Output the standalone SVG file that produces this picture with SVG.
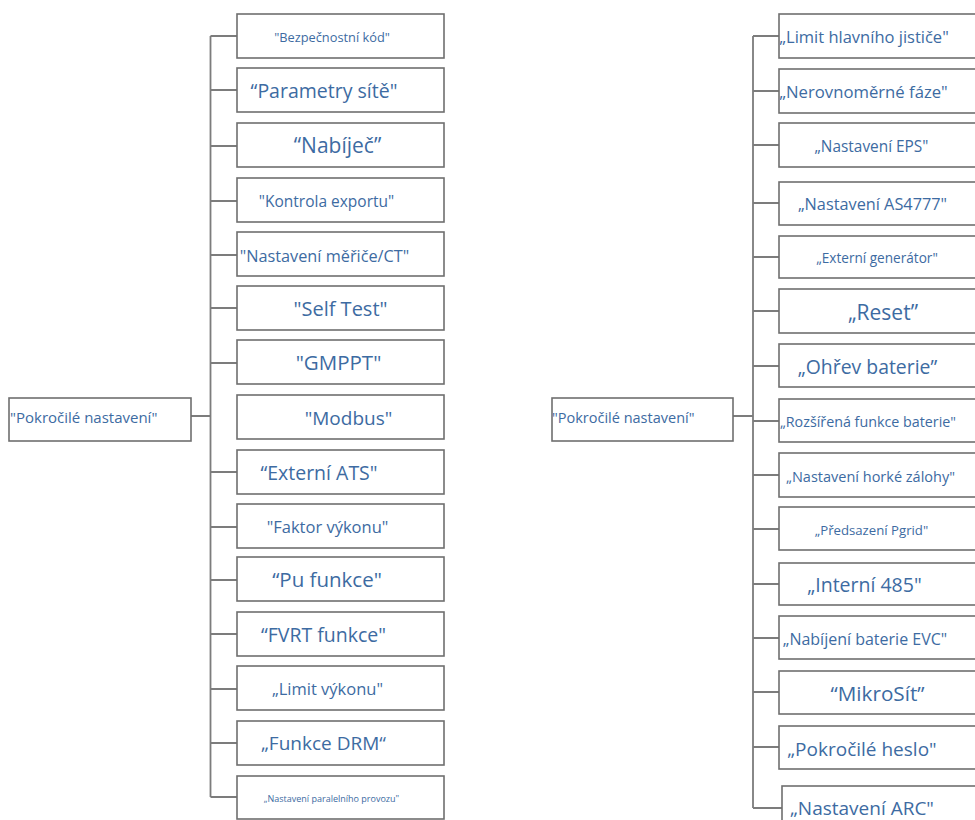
<svg xmlns="http://www.w3.org/2000/svg" width="975" height="820" viewBox="0 0 975 820">
<style>
.box{fill:#ffffff;stroke:#6f6f6f;stroke-width:1.6}
.lbl{font-family:"Open Sans","Noto Sans","DejaVu Sans",sans-serif;fill:#3d6ba2;text-anchor:middle}
.st{text-anchor:start}
.con{stroke:#7c7c7c;stroke-width:1.8;fill:none}
</style>
<rect width="975" height="820" fill="#ffffff"/>
<g id="connectors">
<path class="con" d="M210.5 36V797M191 416H210.5M210.5 36H237M210.5 90H237M210.5 146H237M210.5 201H237M210.5 255H237M210.5 308H237M210.5 363H237M210.5 472H237M210.5 527H237M210.5 580H237M210.5 634H237M210.5 689H237M210.5 743H237M210.5 797H237"/>
<path class="con" d="M753 36V808M733 416H753M753 36H779M753 91H779M753 145H779M753 203H779M753 257H779M753 311H779M753 366H779M753 421H779M753 475H779M753 529H779M753 584H779M753 638H779M753 692H779M753 747H779M753 808H782"/>
</g>
<g id="root-left"><rect class="box" x="9" y="398" width="182" height="43"/><text class="lbl st" x="10" y="423" font-size="15">"Pokročilé nastavení"</text></g>
<g id="l1"><rect class="box" x="237" y="14" width="207" height="44"/><text class="lbl" x="332" y="42" font-size="12.8">"Bezpečnostní kód"</text></g>
<g id="l2"><rect class="box" x="237" y="68" width="207" height="44"/><text class="lbl" x="324" y="98" font-size="19.5">“Parametry sítě"</text></g>
<g id="l3"><rect class="box" x="237" y="123" width="207" height="44"/><text class="lbl" x="337.5" y="153" font-size="21">“Nabíječ”</text></g>
<g id="l4"><rect class="box" x="237" y="178" width="207" height="44"/><text class="lbl" x="326.5" y="206.5" font-size="15.5">"Kontrola exportu"</text></g>
<g id="l5"><rect class="box" x="237" y="232" width="207" height="44"/><text class="lbl" x="324.5" y="261.5" font-size="16.3">"Nastavení měřiče/CT"</text></g>
<g id="l6"><rect class="box" x="237" y="286" width="207" height="44"/><text class="lbl" x="340.5" y="315.5" font-size="20">"Self Test"</text></g>
<g id="l7"><rect class="box" x="237" y="340" width="207" height="44"/><text class="lbl" x="338.5" y="369.5" font-size="20.5">"GMPPT"</text></g>
<g id="l8"><rect class="box" x="237" y="395" width="207" height="44"/><text class="lbl" x="348.5" y="424.5" font-size="19">"Modbus"</text></g>
<g id="l9"><rect class="box" x="237" y="450" width="207" height="44"/><text class="lbl" x="319" y="479.5" font-size="19.5">“Externí ATS"</text></g>
<g id="l10"><rect class="box" x="237" y="504" width="207" height="44"/><text class="lbl" x="327.5" y="533" font-size="16.5">"Faktor výkonu"</text></g>
<g id="l11"><rect class="box" x="237" y="557" width="207" height="44"/><text class="lbl" x="327" y="586.5" font-size="20.5">“Pu funkce"</text></g>
<g id="l12"><rect class="box" x="237" y="612" width="207" height="44"/><text class="lbl" x="323.5" y="641.5" font-size="19.5">“FVRT funkce"</text></g>
<g id="l13"><rect class="box" x="237" y="666" width="207" height="44"/><text class="lbl" x="327.5" y="694.5" font-size="16.5">„Limit výkonu"</text></g>
<g id="l14"><rect class="box" x="237" y="721" width="207" height="44"/><text class="lbl" x="323.5" y="750" font-size="19">„Funkce DRM“</text></g>
<g id="l15"><rect class="box" x="237" y="776" width="207" height="43"/><text class="lbl" x="331.5" y="801.5" font-size="9">„Nastavení paralelního provozu"</text></g>
<g id="root-right"><rect class="box" x="552" y="398" width="181" height="43"/><text class="lbl st" x="552" y="423" font-size="14.5">"Pokročilé nastavení"</text></g>
<g id="r1"><rect class="box" x="779" y="14" width="200" height="44"/><text class="lbl" x="864" y="43" font-size="16.5">„Limit hlavního jističe"</text></g>
<g id="r2"><rect class="box" x="779" y="69" width="200" height="44"/><text class="lbl" x="863.5" y="97.5" font-size="16.7">„Nerovnoměrné fáze"</text></g>
<g id="r3"><rect class="box" x="779" y="123" width="200" height="44"/><text class="lbl" x="871.5" y="151.5" font-size="15.4">„Nastavení EPS"</text></g>
<g id="r4"><rect class="box" x="779" y="182" width="200" height="43"/><text class="lbl" x="872.5" y="210" font-size="16.3">„Nastavení AS4777"</text></g>
<g id="r5"><rect class="box" x="779" y="236" width="200" height="42"/><text class="lbl" x="877" y="263" font-size="13.6">„Externí generátor"</text></g>
<g id="r6"><rect class="box" x="779" y="289" width="200" height="44"/><text class="lbl" x="883" y="319.5" font-size="21">„Reset”</text></g>
<g id="r7"><rect class="box" x="779" y="344" width="200" height="43"/><text class="lbl" x="867.5" y="373.5" font-size="19.4">„Ohřev baterie”</text></g>
<g id="r8"><rect class="box" x="779" y="399" width="200" height="43"/><text class="lbl" x="868" y="427" font-size="14.3">„Rozšířená funkce baterie"</text></g>
<g id="r9"><rect class="box" x="779" y="453" width="200" height="44"/><text class="lbl" x="870.5" y="481.5" font-size="14.5">„Nastavení horké zálohy"</text></g>
<g id="r10"><rect class="box" x="779" y="507" width="200" height="43"/><text class="lbl" x="871.5" y="534.5" font-size="13.2">„Předsazení Pgrid"</text></g>
<g id="r11"><rect class="box" x="779" y="563" width="200" height="42"/><text class="lbl" x="864.5" y="592" font-size="19.5">„Interní 485"</text></g>
<g id="r12"><rect class="box" x="779" y="616" width="200" height="43"/><text class="lbl" x="865" y="645" font-size="16">„Nabíjení baterie EVC"</text></g>
<g id="r13"><rect class="box" x="779" y="671" width="200" height="43"/><text class="lbl" x="877.5" y="700.5" font-size="20.7">“MikroSít”</text></g>
<g id="r14"><rect class="box" x="779" y="726" width="200" height="43"/><text class="lbl" x="862" y="755.5" font-size="19">„Pokročilé heslo"</text></g>
<g id="r15"><rect class="box" x="782" y="786" width="197" height="44"/><text class="lbl" x="862" y="815" font-size="19">„Nastavení ARC"</text></g>
</svg>
